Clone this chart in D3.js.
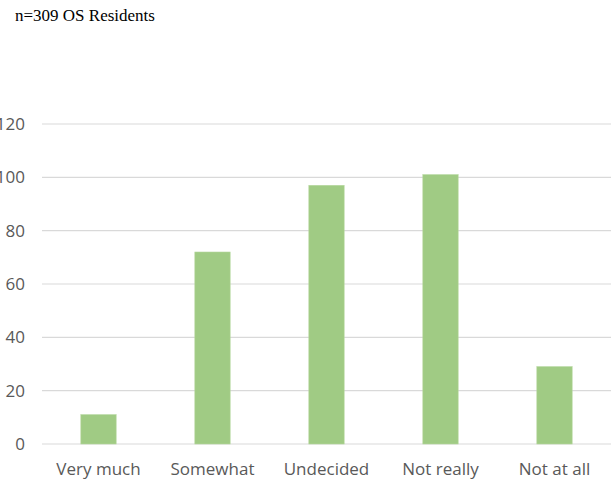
<!DOCTYPE html>
<html>
<head>
<meta charset="utf-8">
<script src="https://cdn.jsdelivr.net/npm/d3@7"></script>
<style>
  body { margin: 0; background: #fff; }
  svg { display: block; }
</style>
</head>
<body>
<svg id="chart" width="616" height="480"></svg>
<script>
// survey answers, n=309
const categories = ['Very much', 'Somewhat', 'Undecided', 'Not really', 'Not at all'];
const counts = [11, 72, 97, 101, 29];
const yTicks = [0, 20, 40, 60, 80, 100, 120];

const svg = d3.select('#chart');

const x = d3.scaleBand()
  .domain(categories)
  .range([41.5, 611.5])
  .paddingInner(0.69)
  .paddingOuter(0.345);

const y = d3.scaleLinear()
  .domain([0, 120])
  .range([444, 124]);

// title
svg.append('text')
  .attr('x', 15)
  .attr('y', 21)
  .attr('font-family', 'Liberation Serif, serif')
  .attr('font-size', 17)
  .attr('fill', '#000')
  .text('n=309 OS Residents');

// gridlines
svg.append('g')
  .selectAll('line')
  .data(yTicks)
  .join('line')
    .attr('x1', 42)
    .attr('x2', 611)
    .attr('y1', d => y(d))
    .attr('y2', d => y(d))
    .attr('stroke', '#d9d9d9')
    .attr('stroke-width', 1.2);

// y labels (the wide ones run off the left edge, as in the original)
svg.append('g')
  .selectAll('text')
  .data(yTicks)
  .join('text')
    .attr('x', 25)
    .attr('y', d => y(d))
    .attr('dy', '0.35em')
    .attr('text-anchor', 'end')
    .attr('font-family', 'Open Sans, sans-serif')
    .attr('font-size', 17)
    .attr('fill', '#595959')
    .text(d => d);

// bars
svg.append('g')
  .selectAll('rect')
  .data(counts)
  .join('rect')
    .attr('x', (d, i) => x(categories[i]))
    .attr('y', d => y(d))
    .attr('width', x.bandwidth())
    .attr('height', d => y(0) - y(d))
    .attr('fill', '#a0cb84')
    .attr('stroke', '#b5d89e')
    .attr('stroke-width', 0.6);

// x labels
svg.append('g')
  .selectAll('text')
  .data(categories)
  .join('text')
    .attr('x', d => x(d) + x.bandwidth() / 2)
    .attr('y', 475)
    .attr('text-anchor', 'middle')
    .attr('font-family', 'Open Sans, sans-serif')
    .attr('font-size', 17)
    .attr('fill', '#595959')
    .text(d => d);
</script>
</body>
</html>
